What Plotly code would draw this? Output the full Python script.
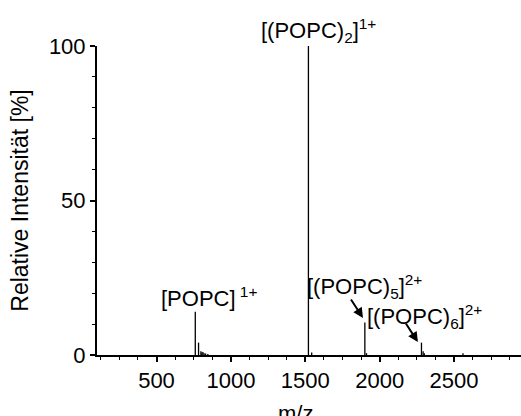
import plotly.graph_objects as go

# Stick spectrum (m/z, relative intensity in %)
mz = [760.6, 782.6, 798.5, 805.0, 812.0, 820.0, 830.0, 845.0,
      1521.1, 1543.1, 1900.4, 1911.4, 2281.0, 2292.0, 2300.0, 2560.0]
intensity = [14.0, 4.0, 1.2, 0.8, 1.0, 0.6, 0.5, 0.3,
             100.0, 0.8, 10.5, 0.6, 4.0, 1.2, 0.6, 0.6]

x_ticks = [500, 1000, 1500, 2000, 2500]
y_ticks = [0, 50, 100]

labels = ["[POPC]<sup> 1+</sup>",
          "[(POPC)<sub>5</sub>]<sup>2+</sup>",
          "[(POPC)<sub>6</sub>]<sup>2+</sup>"]
label_x = [853, 1901, 2304]
label_y = [18.8, 22.3, 12.6]

top_label = "[(POPC)<sub>2</sub>]<sup>1+</sup>"
top_label_x = 1592

arrow_x = [1888, 2257]
arrow_y = [12.0, 4.2]

# build stick segments from the data
xs, ys = [], []
for m, i in zip(mz, intensity):
    xs += [m, m, None]
    ys += [0, i, None]

FONT = "Liberation Sans, Arial, sans-serif"

fig = go.Figure()
fig.add_trace(go.Scatter(x=xs, y=ys, mode="lines",
                         line=dict(color="black", width=1.3),
                         hoverinfo="skip", showlegend=False))

for t, x, y in zip(labels, label_x, label_y):
    fig.add_annotation(x=x, y=y, xref="x", yref="y", text=t, showarrow=False,
                       font=dict(family=FONT, size=22, color="black"),
                       xanchor="center", yanchor="middle")

fig.add_annotation(x=top_label_x, y=1.05, xref="x", yref="paper", text=top_label,
                   showarrow=False, font=dict(family=FONT, size=22, color="black"),
                   xanchor="center", yanchor="middle")

for x, y in zip(arrow_x, arrow_y):
    fig.add_annotation(x=x, y=y, xref="x", yref="y", text="", showarrow=True,
                       ax=-13, ay=-20, arrowhead=2, arrowsize=1, arrowwidth=2,
                       arrowcolor="black")

fig.add_annotation(x=0.467, y=-0.19, xref="paper", yref="paper", text="m/z",
                   showarrow=False, font=dict(family=FONT, size=22, color="black"),
                   xanchor="center", yanchor="middle")

fig.update_layout(
    width=521, height=416,
    margin=dict(l=97, r=0, t=46, b=61),
    paper_bgcolor="white", plot_bgcolor="white",
    font=dict(family=FONT, color="black"),
    xaxis=dict(range=[100, 2950], tickvals=x_ticks, showgrid=False, zeroline=False,
               showline=True, linecolor="black", linewidth=2,
               ticks="outside", ticklen=5, tickwidth=1.5, tickcolor="black",
               minor=dict(dtick=125, tick0=0, ticks="outside", ticklen=3,
                          tickwidth=1.2, tickcolor="black"),
               tickfont=dict(family=FONT, size=22, color="black")),
    yaxis=dict(range=[0, 100], tickvals=y_ticks, showgrid=False, zeroline=False,
               showline=True, linecolor="black", linewidth=2,
               ticks="outside", ticklen=5, tickwidth=1.5, tickcolor="black",
               minor=dict(dtick=10, tick0=0, ticks="outside", ticklen=3,
                          tickwidth=1.2, tickcolor="black"),
               tickfont=dict(family=FONT, size=22, color="black"),
               title=dict(text="Relative Intensität [%]", standoff=14,
                          font=dict(family=FONT, size=23, color="black"))),
)

fig.write_html("out.html")
